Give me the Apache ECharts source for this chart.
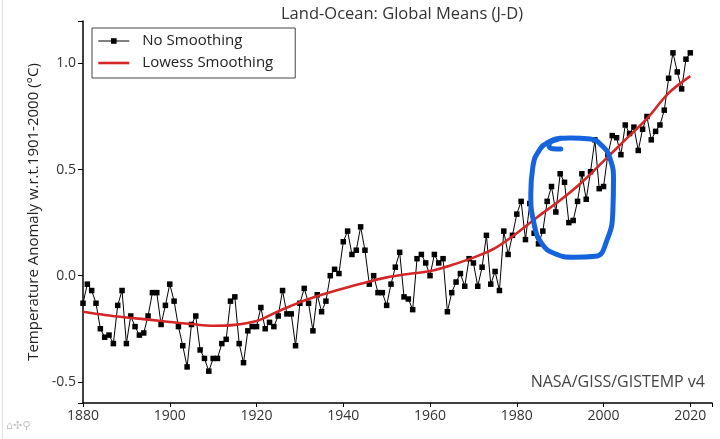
<!DOCTYPE html>
<html>
<head>
<meta charset="utf-8">
<script src="https://cdn.jsdelivr.net/npm/echarts@6/dist/echarts.min.js"></script>
<style>
html,body{margin:0;padding:0;background:#fff;}
#c{width:720px;height:439px;}
</style>
</head>
<body>
<div id="c"></div>
<script>
// ---- data ----
const firstYear = 1880;
const anomalies = [
-0.13,-0.04,-0.07,-0.13,-0.25,-0.29,-0.28,-0.32,-0.14,-0.07,
-0.32,-0.19,-0.24,-0.28,-0.27,-0.19,-0.08,-0.08,-0.23,-0.14,
-0.04,-0.12,-0.24,-0.33,-0.43,-0.23,-0.19,-0.35,-0.39,-0.45,
-0.39,-0.39,-0.32,-0.30,-0.12,-0.10,-0.32,-0.41,-0.26,-0.24,
-0.24,-0.15,-0.25,-0.22,-0.24,-0.19,-0.07,-0.18,-0.18,-0.33,
-0.13,-0.06,-0.13,-0.26,-0.09,-0.17,-0.12,0.00,0.03,0.01,
0.16,0.21,0.10,0.12,0.23,0.12,-0.04,0.00,-0.08,-0.08,
-0.14,-0.04,0.04,0.11,-0.10,-0.11,-0.16,0.08,0.10,0.06,
0.00,0.10,0.06,0.08,-0.17,-0.08,-0.03,0.01,-0.05,0.08,
0.06,-0.05,0.04,0.19,-0.04,0.02,-0.07,0.21,0.10,0.19,
0.29,0.35,0.17,0.34,0.20,0.15,0.21,0.35,0.42,0.30,
0.48,0.44,0.25,0.26,0.35,0.48,0.36,0.49,0.64,0.41,
0.42,0.57,0.66,0.65,0.57,0.71,0.67,0.70,0.59,0.69,
0.75,0.64,0.68,0.71,0.78,0.93,1.05,0.96,0.88,1.02,
1.05
];
const lowessYears = [1880,1885,1890,1895,1900,1905,1910,1915,1920,1925,1930,1935,1940,1945,1950,1955,1960,1965,1970,1975,1980,1985,1990,1995,2000,2005,2010,2015,2020];
const lowessValues = [-0.17,-0.185,-0.197,-0.207,-0.218,-0.228,-0.236,-0.232,-0.214,-0.168,-0.125,-0.09,-0.06,-0.033,-0.008,0.008,0.022,0.05,0.085,0.13,0.20,0.28,0.355,0.44,0.54,0.64,0.74,0.86,0.94];
const xTickLabels = [1880,1900,1920,1940,1960,1980,2000,2020];
const yTickLabels = [-0.5,0.0,0.5,1.0];
// hand-drawn highlight loop, in data coordinates (year, anomaly)
const loopYears  = [1990.15,1988.3,1987.4,1988.44,1992.30,1996.91,1999.61,2001.53,2002.29,2002.15,2000.77,1998.07,1993.06,1988.84,1985.77,1983.99,1983.23,1983.69,1985.38,1987.68,1989.99];
const loopValues = [0.597,0.598,0.615,0.636,0.649,0.644,0.613,0.550,0.448,0.307,0.166,0.091,0.087,0.103,0.151,0.245,0.386,0.511,0.597,0.633,0.647];

const rawData = anomalies.map((v,i)=>[firstYear+i, v]);
const lowessData = lowessYears.map((y,i)=>[y, lowessValues[i]]);
const loopData = loopYears.map((y,i)=>[y, loopValues[i]]);

const FONT = '"Open Sans", "Noto Sans", sans-serif';
const RED = '#d32626';
const chart = echarts.init(document.getElementById('c'), null, {renderer:'canvas'});
chart.setOption({
  backgroundColor:'#ffffff',
  animation:false,
  textStyle:{fontFamily:FONT},
  title:{
    text:'Land-Ocean: Global Means (J-D)',
    left:397, top:1, textAlign:'center',
    textStyle:{fontFamily:FONT,fontSize:16.5,fontWeight:'normal',color:'#333'}
  },
  grid:{left:83,right:8,top:21,bottom:36,containLabel:false},
  legend:{
    orient:'vertical', left:92, top:28,
    data:[
      {name:'No Smoothing', itemStyle:{color:'#000'}, lineStyle:{color:'#000',width:1}},
      {name:'Lowess Smoothing', itemStyle:{opacity:0}, lineStyle:{color:RED,width:2.6}}
    ],
    itemWidth:31, itemHeight:7, itemGap:6,
    padding:[5,22,7,5],
    borderColor:'#444', borderWidth:1,
    textStyle:{fontFamily:FONT,fontSize:15,color:'#222',lineHeight:16,padding:[0,0,0,8]}
  },
  xAxis:{
    type:'value', min:1880, max:2025,
    splitLine:{show:false},
    axisLine:{show:true,onZero:false,lineStyle:{color:'#000',width:1.5}},
    axisTick:{show:true,length:4,lineStyle:{color:'#000',width:1},customValues:xTickLabels.concat([2025])},
    axisLabel:{customValues:xTickLabels,formatter:v=>String(v),fontFamily:FONT,fontSize:14,color:'#333',margin:6}
  },
  yAxis:{
    type:'value', min:-0.6, max:1.2,
    name:'Temperature Anomaly w.r.t.1901-2000 (°C)',
    nameLocation:'middle', nameGap:42,
    nameTextStyle:{fontFamily:FONT,fontSize:15,color:'#222'},
    splitLine:{show:false},
    axisLine:{show:true,onZero:false,lineStyle:{color:'#000',width:1.5}},
    axisTick:{show:true,length:5,lineStyle:{color:'#000',width:1},customValues:[-0.6].concat(yTickLabels,[1.2])},
    axisLabel:{customValues:yTickLabels,formatter:v=>v.toFixed(1),fontFamily:FONT,fontSize:14,color:'#333',margin:7}
  },
  series:[
    {
      name:'No Smoothing', type:'line', data:rawData,
      symbol:'rect', symbolSize:5.5, showSymbol:true,
      lineStyle:{color:'#000',width:1},
      itemStyle:{color:'#000'},
      z:3, silent:true
    },
    {
      name:'Lowess Smoothing', type:'line', data:lowessData,
      symbol:'none', smooth:0.35,
      lineStyle:{color:RED,width:2.6},
      itemStyle:{color:RED},
      z:4, silent:true
    },
    {
      name:'highlight', type:'line', data:loopData,
      symbol:'none', smooth:0.5,
      lineStyle:{color:'#1664dd',width:5,cap:'round',join:'round'},
      itemStyle:{color:'#1664dd'},
      z:5, silent:true
    }
  ],
  graphic:[
    {type:'text', right:15, top:374, style:{text:'NASA/GISS/GISTEMP v4', fill:'#444', font:'16px "Open Sans", "Noto Sans", sans-serif'}},
    {type:'text', left:6, top:421, style:{text:'⌂✣⚲', fill:'#c4c4c4', font:'11px "DejaVu Sans", sans-serif'}},
    {type:'line', shape:{x1:2.5,y1:0,x2:2.5,y2:439}, style:{stroke:'#e2e2e2',lineWidth:1}}
  ]
});
</script>
</body>
</html>
